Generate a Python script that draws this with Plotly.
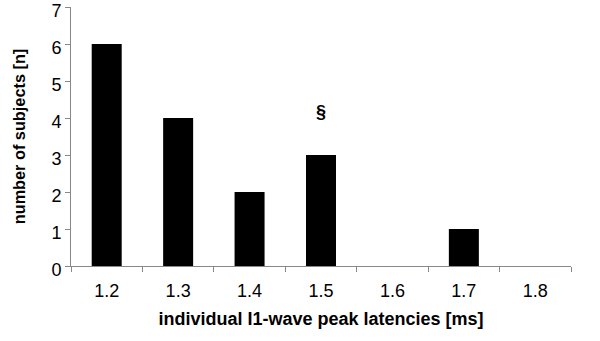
import plotly.graph_objects as go

categories = ["1.2", "1.3", "1.4", "1.5", "1.6", "1.7", "1.8"]
counts = [6, 4, 2, 3, 0, 1, 0]
marker_label = "§"
marker_cat = "1.5"
marker_y = 4.15

fig = go.Figure(go.Bar(x=categories, y=counts, marker=dict(color="black", line=dict(width=0)), width=0.42))

fig.add_annotation(x=categories.index(marker_cat), y=marker_y, text="<b>" + marker_label + "</b>", showarrow=False,
                   font=dict(family="Liberation Sans, Arial", size=18, color="black"))

fig.update_layout(
    width=600, height=341,
    margin=dict(l=71, r=29, t=7, b=75, autoexpand=False),
    plot_bgcolor="white", paper_bgcolor="white",
    showlegend=False,
    font=dict(family="Liberation Sans, Arial", color="black"),
    xaxis=dict(type="category", tickson="boundaries", ticks="outside", ticklen=5,
               tickcolor="#888", showline=True, linecolor="#888", linewidth=1,
               tickfont=dict(size=18), showgrid=False, automargin=False, ticklabelstandoff=8,
               title=dict(text="<b>individual I1-wave peak latencies [ms]</b>", font=dict(size=18), standoff=12)),
    yaxis=dict(range=[0, 7], tickvals=[0, 1, 2, 3, 4, 5, 6, 7], ticks="outside", ticklen=5, tickcolor="#888",
               showline=True, linecolor="#888", linewidth=1, showgrid=False, zeroline=False,
               tickfont=dict(size=18), ticklabeloverflow="allow", automargin=False, ticklabelshift=4,
               title=dict(text="<b>number of subjects [n]</b>", font=dict(size=16.3), standoff=21)),
)

fig.write_html("out.html", config={"displayModeBar": False},
               post_script="document.body.style.margin='0';document.body.style.overflow='hidden';")
